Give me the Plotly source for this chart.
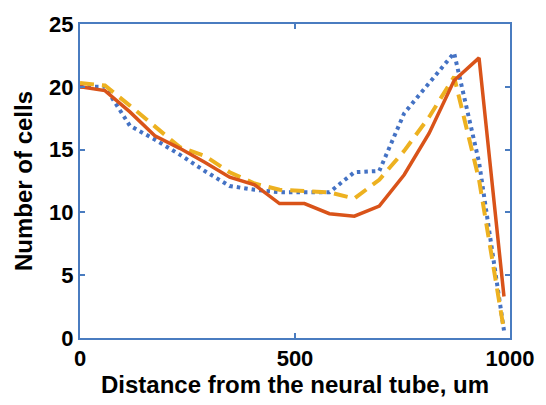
import plotly.graph_objects as go

x_um = [0, 58, 116, 174, 232, 290, 348, 406, 464, 522, 580, 638, 696, 754, 812, 870, 928, 986]
orange_vals = [20.0, 19.7, 18.0, 16.1, 15.1, 14.0, 12.8, 12.2, 10.7, 10.7, 9.9, 9.7, 10.5, 13.0, 16.3, 20.5, 22.3, 3.3]
blue_vals = [20.0, 20.0, 16.9, 15.8, 14.6, 13.3, 12.1, 11.8, 11.6, 11.6, 11.6, 13.2, 13.3, 17.9, 20.3, 22.7, 14.0, 0.6]
yellow_vals = [20.3, 20.1, 18.5, 16.8, 15.2, 14.5, 13.2, 12.3, 11.8, 11.7, 11.6, 11.1, 12.6, 14.9, 17.6, 20.8, 12.6, 0.6]

x_ticks = [0, 500, 1000]
y_ticks = [0, 5, 10, 15, 20, 25]

axis_color = "#4A7CC0"
fam = "Liberation Sans, Arial, sans-serif"

fig = go.Figure()
fig.add_trace(go.Scatter(x=x_um, y=blue_vals, mode="lines",
                         line=dict(color="#4472C4", width=4, dash="3.5px,4px")))
fig.add_trace(go.Scatter(x=x_um, y=yellow_vals, mode="lines",
                         line=dict(color="#EDB120", width=4, dash="14px,8px")))
fig.add_trace(go.Scatter(x=x_um, y=orange_vals, mode="lines",
                         line=dict(color="#D95319", width=3.5)))

fig.update_layout(
    width=546, height=405,
    margin=dict(l=80, r=35, t=15, b=67),
    paper_bgcolor="white", plot_bgcolor="white",
    showlegend=False,
    font=dict(family=fam, size=22, color="black"),
)
fig.update_xaxes(
    range=[0, 1000], tickvals=x_ticks, ticktext=[str(v) for v in x_ticks],
    showgrid=False, zeroline=False,
    showline=True, linecolor=axis_color, linewidth=2, mirror="ticks",
    ticks="inside", ticklen=5, tickwidth=2, tickcolor=axis_color,
    tickfont=dict(family=fam, size=22, color="black", weight="bold"),
    title=dict(text="<b>Distance from the neural tube, um</b>", standoff=4,
               font=dict(family=fam, size=24, color="black")),
)
fig.update_yaxes(
    range=[0, 25], tickvals=y_ticks, ticktext=[str(v) for v in y_ticks],
    showgrid=False, zeroline=False,
    showline=True, linecolor=axis_color, linewidth=2, mirror="ticks",
    ticks="inside", ticklen=5, tickwidth=2, tickcolor=axis_color,
    tickfont=dict(family=fam, size=22, color="black", weight="bold"),
    title=dict(text="<b>Number of cells</b>", standoff=10,
               font=dict(family=fam, size=24, color="black")),
)

fig.write_html("out.html")
